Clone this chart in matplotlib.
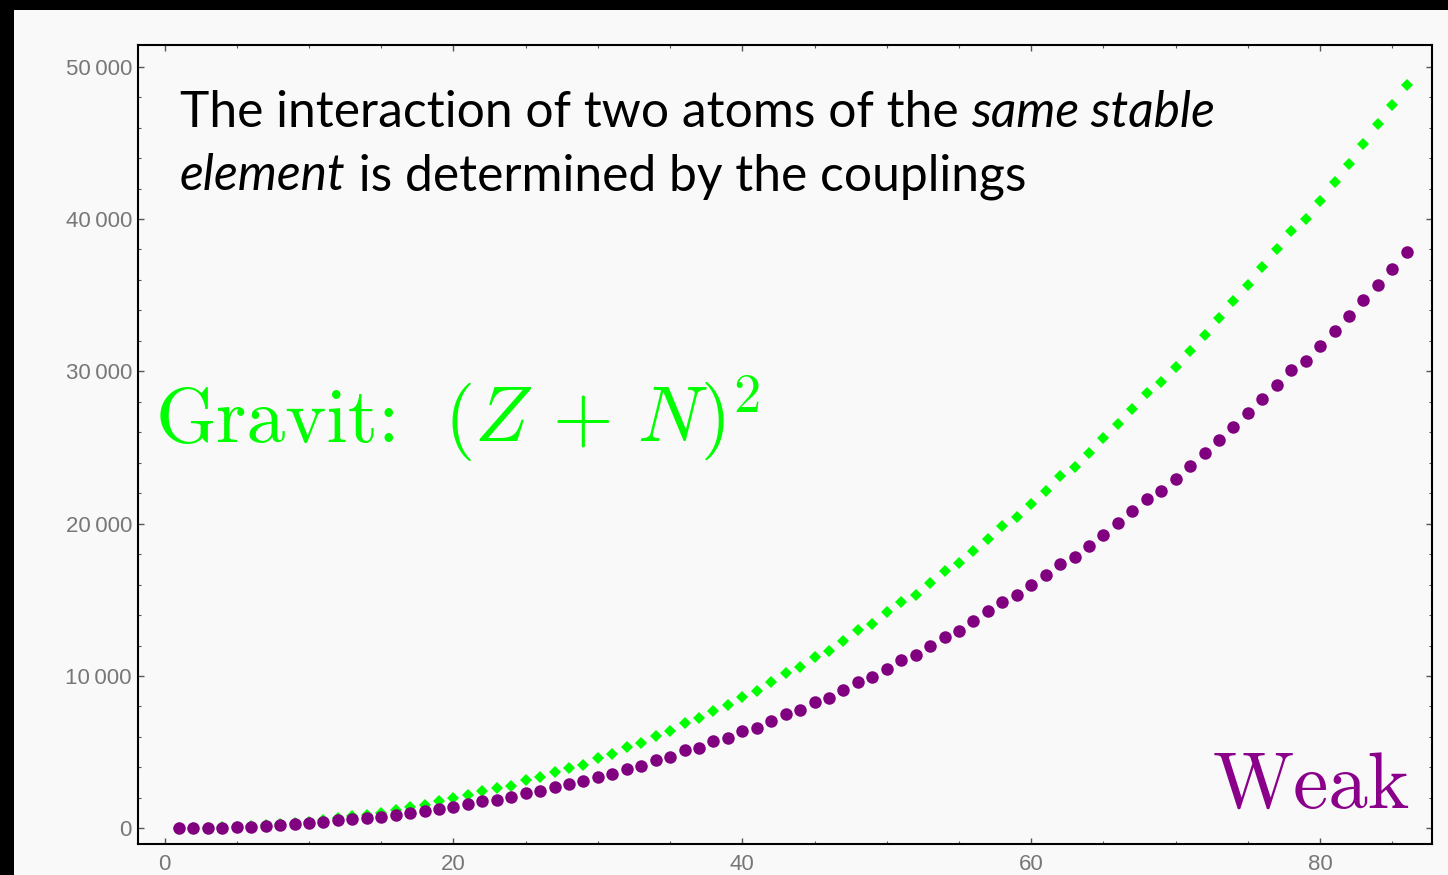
import matplotlib.pyplot as plt
from matplotlib.patches import Rectangle
from matplotlib.ticker import MultipleLocator, FuncFormatter

plt.rcParams['mathtext.fontset'] = 'cm'

# element number Z
z = list(range(1, 87))

# green diamonds: (Z+N)^2
gravit = [4, 16, 36, 64, 100, 156, 225, 289, 361, 441,
          529, 676, 784, 900, 1024, 1225, 1369, 1548, 1771, 1988,
          2165, 2428, 2644, 2796, 3150, 3347, 3695, 3957, 4174, 4634,
          4877, 5316, 5599, 6039, 6420, 6912, 7240, 7719, 8113, 8619,
          8993, 9603, 10175, 10608, 11225, 11639, 12315, 13017, 13411, 14179,
          14856, 15335, 16103, 16871, 17416, 18224, 19012, 19865, 20436, 21310,
          22163, 23108, 23699, 24638, 25622, 26541, 27526, 28577, 29279, 30264,
          31314, 32404, 33501, 34597, 35687, 36849, 38031, 39193, 40000, 41162,
          42409, 43611, 44924, 46237, 47504, 48817]

# purple dots: weak
weak = [3, 11, 25, 44, 69, 110, 155, 210, 270, 330,
        400, 515, 585, 660, 745, 885, 1000, 1130, 1266, 1397,
        1594, 1771, 1876, 2073, 2296, 2428, 2710, 2907, 3084, 3347,
        3583, 3911, 4069, 4463, 4703, 5120, 5270, 5710, 5927, 6367,
        6584, 7063, 7522, 7746, 8271, 8553, 9098, 9603, 9912, 10477,
        11028, 11396, 11947, 12558, 12932, 13589, 14245, 14856, 15296, 15952,
        16608, 17350, 17810, 18552, 19274, 20022, 20810, 21598, 22123, 22941,
        23805, 24638, 25513, 26366, 27285, 28204, 29122, 30107, 30658, 31662,
        32627, 33612, 34662, 35687, 36738, 37833]

W, H = 1448, 875
bg = '#f9f9f9'
tick_gray = '#777777'

fig = plt.figure(figsize=(W / 100, H / 100), dpi=100, facecolor='black')
fig.patches.append(Rectangle((14 / W, 0), 1, 1 - 10 / H, transform=fig.transFigure,
                             facecolor=bg, edgecolor='none', zorder=-10))

ax = fig.add_axes([137.5 / W, 1 - 844 / H, (1432 - 137.5) / W, (844 - 44.5) / H])
ax.set_facecolor(bg)

ax.plot(z, gravit, 'D', ms=5.7, mew=0, color='#00ff00', zorder=2)
ax.plot(z, weak, 'o', ms=9, mew=0, color='#800080', zorder=3)

ax.set_xlim(-1.87, 87.75)
ax.set_ylim(-1031, 51457)

ax.xaxis.set_major_locator(MultipleLocator(20))
ax.xaxis.set_minor_locator(MultipleLocator(5))
ax.yaxis.set_major_locator(MultipleLocator(10000))
ax.yaxis.set_minor_locator(MultipleLocator(2000))
ax.yaxis.set_major_formatter(FuncFormatter(lambda v, p: f"{v:,.0f}".replace(",", "\u2009")))

ax.tick_params(which='both', direction='in', top=True, right=True,
               color='#555555', labelcolor=tick_gray, labelsize=16)
ax.tick_params(which='major', length=4, width=1)
ax.tick_params(which='minor', length=2.5, width=0.8)
ax.tick_params(axis='x', pad=7)
ax.tick_params(axis='y', pad=4)
for lab in ax.get_xticklabels() + ax.get_yticklabels():
    lab.set_family('Liberation Sans')
for sp in ax.spines.values():
    sp.set_linewidth(1.5)
    sp.set_color('black')


def fx(px):
    return px / W


def fy(py):
    return 1 - py / H


# caption with mixed upright / italic runs
renderer = fig.canvas.get_renderer()


def put_runs(x, y, runs, size):
    for s, style in runs:
        t = fig.text(fx(x), fy(y), s, fontsize=size, style=style,
                     family='Lato', va='baseline', ha='left', color='black')
        bb = t.get_window_extent(renderer)
        x = bb.x1


cap = 35.8
put_runs(180, 127, [("The interaction of two atoms of the ", 'normal'),
                    ("same stable", 'italic')], cap)
put_runs(180, 190, [("element", 'italic'),
                    (" is determined by the couplings", 'normal')], cap)

fig.text(fx(156), fy(442), "Gravit:", family='cmr10',
         fontsize=56, color='#00ff00', va='baseline', ha='left')
fig.text(fx(444), fy(442), r"$(Z\,+\,N)^2$",
         fontsize=56, color='#00ff00', va='baseline', ha='left')

fig.text(fx(1213), fy(808), "Weak", family='cmr10',
         fontsize=57, color='#8b008b', va='baseline', ha='left')

fig.savefig('out.png', dpi=100, facecolor=fig.get_facecolor())
